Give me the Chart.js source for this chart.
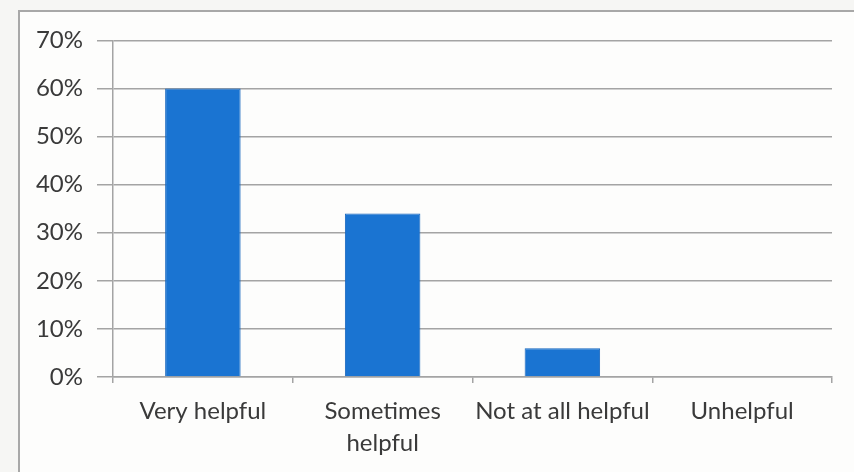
<!DOCTYPE html>
<html>
<head>
<meta charset="utf-8">
<script src="https://cdn.jsdelivr.net/npm/chart.js@4"></script>
<style>
    html, body { margin: 0; padding: 0; background: #f6f6f4; }
    #frame {
        position: absolute; left: 18px; top: 10px;
        width: 836px; height: 462px;
        background: #fdfdfc;
        border-left: 2px solid #a8a8a8;
        border-top: 2px solid #a8a8a8;
        box-sizing: border-box;
    }
    #wrap { position: absolute; left: 0; top: 0; width: 834px; height: 460px; }
</style>
</head>
<body>
<div id="frame"><div id="wrap"><canvas id="chart"></canvas></div></div>
<script>
// 응답 분포 (%)
const CATEGORIES = ["Very helpful", ["Sometimes", "helpful"], "Not at all helpful", "Unhelpful"];
const VALUES = [60, 34, 6, 0];
const Y_MAX = 70;
const Y_STEP = 10;

const BAR_COLOR = "#1a74d2";
const GRID_COLOR = "#a4a4a4";
const TEXT_COLOR = "#3a3a3a";
const FONT = "Lato, 'Open Sans', sans-serif";

new Chart(document.getElementById("chart"), {
    type: "bar",
    data: {
        labels: CATEGORIES,
        datasets: [{
            data: VALUES,
            backgroundColor: BAR_COLOR,
            borderColor: "#1565bd",
            borderWidth: 1,
            barPercentage: 0.42,
            categoryPercentage: 1.0,
        }],
    },
    options: {
        responsive: true,
        maintainAspectRatio: false,
        animation: false,
        layout: { padding: { top: 28, right: 22, left: 0, bottom: 0 } },
        plugins: { legend: { display: false }, tooltip: { enabled: false } },
        scales: {
            x: {
                offset: true,
                grid: {
                    offset: true,
                    drawOnChartArea: false,
                    color: GRID_COLOR,
                    tickLength: 6,
                    lineWidth: 1.5,
                },
                border: { color: GRID_COLOR, width: 1.5 },
                ticks: {
                    color: TEXT_COLOR,
                    font: { family: FONT, size: 24, lineHeight: 1.35 },
                    padding: 12,
                    maxRotation: 0,
                    autoSkip: false,
                },
                afterFit: (s) => { s.height = 95; },
            },
            y: {
                min: 0,
                max: Y_MAX,
                grid: { color: GRID_COLOR, lineWidth: 1.5, tickLength: 16 },
                border: { color: GRID_COLOR, width: 1.5 },
                ticks: {
                    stepSize: Y_STEP,
                    color: TEXT_COLOR,
                    font: { family: FONT, size: 24 },
                    padding: 14,
                    callback: (v) => v + "%",
                },
                afterFit: (s) => { s.width = 93; },
            },
        },
    },
});
</script>
</body>
</html>
